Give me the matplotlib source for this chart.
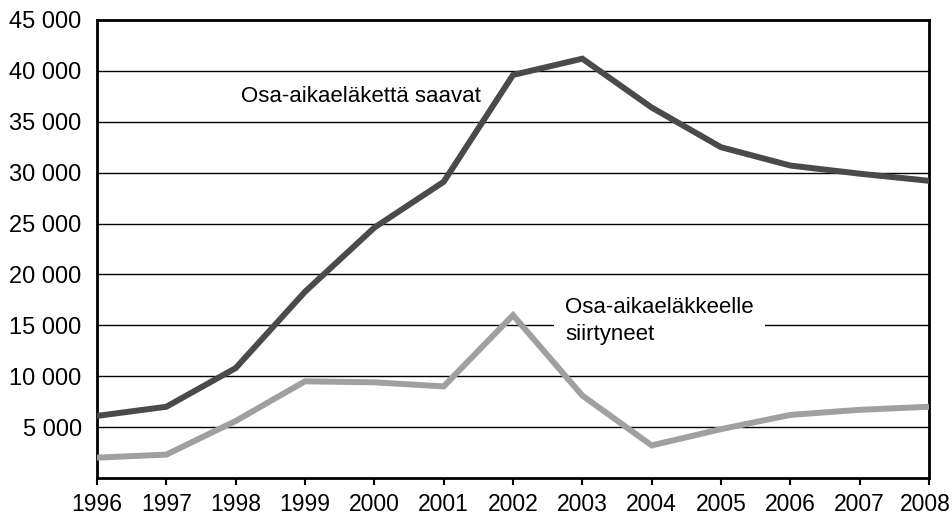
import matplotlib
matplotlib.use("Agg")
import matplotlib.pyplot as plt
import matplotlib.transforms as mtransforms
from matplotlib.ticker import FuncFormatter

plt.rcParams['font.family'] = ['Liberation Sans', 'DejaVu Sans']

years = [1996, 1997, 1998, 1999, 2000, 2001, 2002, 2003, 2004, 2005, 2006, 2007, 2008]
saavat = [6100, 7000, 10800, 18300, 24600, 29100, 39600, 41200, 36400, 32500, 30700, 29900, 29200]
siirtyneet = [2000, 2300, 5600, 9500, 9400, 9000, 16000, 8100, 3200, 4800, 6200, 6700, 7000]
label_saavat = "Osa-aikaeläkettä saavat"
label_siirtyneet = "Osa-aikaeläkkeelle\nsiirtyneet"
yticks = [5000, 10000, 15000, 20000, 25000, 30000, 35000, 40000, 45000]

fig = plt.figure(figsize=(9.52, 5.15), dpi=100)
ax = fig.add_axes([97/952, 1-478/515, (929-97)/952, (478-20)/515])

for y in yticks:
    ax.axhline(y, color='black', lw=1.0, zorder=1)

ax.plot(years, saavat, color='#4a4a4a', lw=4.3, zorder=3, solid_joinstyle='miter')
ax.plot(years, siirtyneet, color='#a0a0a0', lw=4.3, zorder=3, solid_joinstyle='miter')

ax.set_xlim(1996, 2008)
ax.set_ylim(0, 45000)
ax.set_xticks(years)
ax.set_yticks(yticks)
ax.yaxis.set_major_formatter(FuncFormatter(lambda v, p: f"{int(v):,}".replace(",", " ")))
ax.tick_params(axis='y', length=0, labelsize=17, pad=11)
ax.tick_params(axis='x', length=5, width=1.5, direction='out', labelsize=16.5, pad=6)
for s in ax.spines.values():
    s.set_linewidth(2)
    s.set_color('black')

# keep the last year label inside the figure edge
last = ax.get_xticklabels()[-1]
last.set_transform(last.get_transform() + mtransforms.ScaledTranslation(-4/100, 0, fig.dpi_scale_trans))

ax.text(1998.07, 37450, label_saavat, fontsize=16, va='center', ha='left', zorder=4)
ax.text(2002.75, 15400, label_siirtyneet, fontsize=16, va='center', ha='left', zorder=4,
        linespacing=1.35,
        bbox=dict(facecolor='white', edgecolor='none', pad=8))

fig.savefig("out.png", dpi=100)
